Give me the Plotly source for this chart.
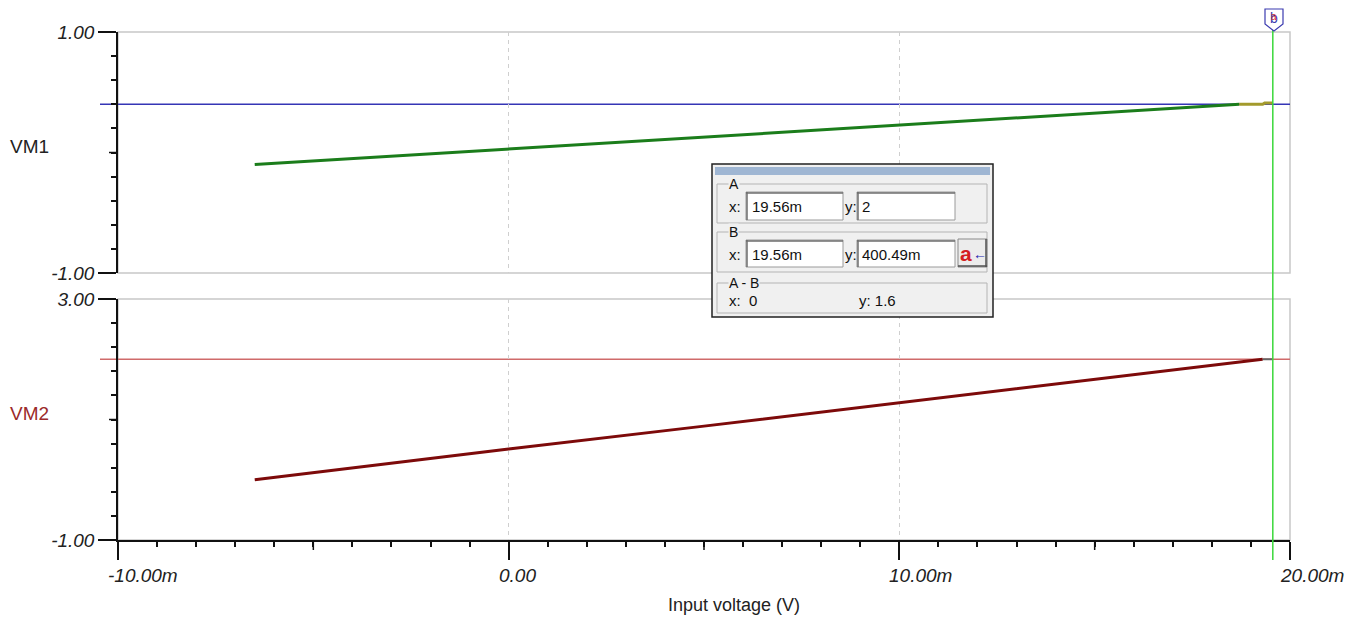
import plotly.graph_objects as go

# ---------------- data ----------------
vin_vm1 = [-6.5, -5.0, 0.0, 5.0, 10.0, 15.0, 18.7]          # mV
vm1 = [-0.10, -0.07, 0.03, 0.13, 0.23, 0.33, 0.40]           # V
vin_vm1_tail = [18.7, 19.3, 19.35, 19.56]
vm1_tail = [0.40, 0.40, 0.41, 0.41]
vin_vm2 = [-6.5, -5.0, 0.0, 5.0, 10.0, 15.0, 19.3]
vm2 = [0.00, 0.12, 0.51, 0.89, 1.28, 1.66, 2.00]
vin_vm2_tail = [19.3, 19.56]
vm2_tail = [2.00, 2.00]

cursor_x = 19.56
cursor_a_y = 2.0
cursor_b_y = 0.40049

x_tick_vals = [-10, 0, 10, 20]
x_tick_text = ["-10.00m", "0.00", "10.00m", "20.00m"]
x_mid_ticks = [-5, 5, 15]
y1_tick_vals = [-1, 1]
y1_tick_text = ["-1.00", "1.00"]
y2_tick_vals = [-1, 3]
y2_tick_text = ["-1.00", "3.00"]

box_ax, box_ay = "19.56m", "2"
box_bx, box_by = "19.56m", "400.49m"
box_dx, box_dy = "0", "1.6"

# ---------------- helpers ----------------
W, H = 1362, 617
def px(x):
    return x / W
def py(y):
    return 1 - y / H

FONT = "Liberation Sans, Arial, sans-serif"
GRAY = "#c8c8c8"
AX = "#111111"

fig = go.Figure()

fig.add_trace(go.Scatter(x=vin_vm1, y=vm1, mode="lines", line=dict(color="#1b7d1b", width=3),
                         xaxis="x", yaxis="y", showlegend=False, hoverinfo="skip"))
fig.add_trace(go.Scatter(x=vin_vm1_tail, y=vm1_tail, mode="lines", line=dict(color="#a39a2c", width=3),
                         xaxis="x", yaxis="y", showlegend=False, hoverinfo="skip"))
fig.add_trace(go.Scatter(x=vin_vm2, y=vm2, mode="lines", line=dict(color="#7d0a0a", width=3),
                         xaxis="x2", yaxis="y2", showlegend=False, hoverinfo="skip"))
fig.add_trace(go.Scatter(x=vin_vm2_tail, y=vm2_tail, mode="lines", line=dict(color="#666666", width=2),
                         xaxis="x2", yaxis="y2", showlegend=False, hoverinfo="skip"))

shapes = []
# plot frames (gray)
for xr, yr in (("x domain", "y domain"), ("x2 domain", "y2 domain")):
    shapes.append(dict(type="rect", xref=xr, yref=yr, x0=0, x1=1, y0=0, y1=1,
                       line=dict(color=GRAY, width=1.5), layer="below"))
# cursor horizontal lines
shapes.append(dict(type="line", xref="x domain", yref="y", x0=-18 / 1172, x1=1,
                   y0=cursor_b_y, y1=cursor_b_y, line=dict(color="#3535b5", width=1.5), layer="below"))
shapes.append(dict(type="line", xref="x2 domain", yref="y2", x0=-18 / 1172, x1=1,
                   y0=cursor_a_y, y1=cursor_a_y, line=dict(color="#cf6a6a", width=1.5), layer="below"))
# cursor vertical line
shapes.append(dict(type="line", xref="x2", yref="paper", x0=cursor_x, x1=cursor_x,
                   y0=py(560), y1=py(30), line=dict(color="#3ad83a", width=1.5)))
# medium ticks
shapes.append(dict(type="line", xref="paper", yref="y", x0=px(109), x1=px(118), y0=0, y1=0,
                   line=dict(color=AX, width=1.5)))
shapes.append(dict(type="line", xref="paper", yref="y2", x0=px(109), x1=px(118), y0=1, y1=1,
                   line=dict(color=AX, width=1.5)))
for v in x_mid_ticks:
    shapes.append(dict(type="line", xref="x2", yref="paper", x0=v, x1=v, y0=py(540), y1=py(550),
                       line=dict(color=AX, width=1.5)))
# cursor marker at top
shapes.append(dict(type="path", xref="paper", yref="paper",
                   path=f"M {px(1265)},{py(9)} L {px(1283)},{py(9)} L {px(1283)},{py(24)} "
                        f"L {px(1274)},{py(31)} L {px(1265)},{py(24)} Z",
                   fillcolor="white", line=dict(color="#3b3bb0", width=1.2)))

# ---------------- cursor readout window ----------------
def rect(x0, y0, x1, y1, fill, line, lw=1):
    shapes.append(dict(type="rect", xref="paper", yref="paper", x0=px(x0), x1=px(x1),
                       y0=py(y1), y1=py(y0), fillcolor=fill, line=dict(color=line, width=lw)))
def hline(x0, x1, y, color, lw=1):
    shapes.append(dict(type="line", xref="paper", yref="paper", x0=px(x0), x1=px(x1),
                       y0=py(y), y1=py(y), line=dict(color=color, width=lw)))
def vline(x, y0, y1, color, lw=1):
    shapes.append(dict(type="line", xref="paper", yref="paper", x0=px(x), x1=px(x),
                       y0=py(y0), y1=py(y1), line=dict(color=color, width=lw)))

rect(712, 164, 993, 317, "#f0f0f0", "#202020", 1.5)
rect(715, 167, 990, 175, "#9fb6d3", "#9fb6d3", 0)
# group boxes
for (y0, y1) in ((184, 223), (232, 272), (283, 313)):
    rect(717, y0, 987, y1, "rgba(0,0,0,0)", "#b4b4b4", 1)
# text fields
def field(x0, y0, x1, y1):
    rect(x0, y0, x1, y1, "white", "#9a9a9a", 1)
    hline(x0, x1, y0 + 1, "#6e6e6e", 1.5)
    vline(x0 + 1, y0, y1, "#6e6e6e", 1.5)
field(746, 192, 843, 220)
field(857, 192, 955, 220)
field(746, 240, 843, 267)
field(857, 240, 955, 267)
# button
rect(958, 239, 987, 267, "#ececec", "#8a8a8a", 1)
hline(958, 987, 266, "#505050", 1.5)
vline(986, 239, 267, "#505050", 1.5)

annotations = []
def txt(x, y, s, size=15, color="#111111", xanchor="left", italic=False, bg=None, family=FONT, bold=False):
    a = dict(xref="paper", yref="paper", x=px(x), y=py(y), text=("<b>%s</b>" % s) if bold else s,
             showarrow=False, xanchor=xanchor, yanchor="middle",
             font=dict(family=family, size=size, color=color, style="italic" if italic else "normal"))
    if bg:
        a["bgcolor"] = bg
        a["borderpad"] = 0
    annotations.append(a)

txt(728, 184, "A", size=14, bg="#f0f0f0")
txt(728, 232, "B", size=14, bg="#f0f0f0")
txt(728, 283, "A - B", size=14, bg="#f0f0f0")
txt(727, 206, "x:")
txt(843, 206, "y:")
txt(727, 254, "x:")
txt(843, 254, "y:")
txt(750, 206, box_ax)
txt(860, 206, box_ay)
txt(750, 254, box_bx)
txt(860, 254, box_by)
txt(727, 300, "x:  " + box_dx)
txt(857, 300, "y: " + box_dy)
txt(966, 253, "a", size=21, color="#d42020", xanchor="center", bold=True)
txt(980, 254, "←", size=14, color="#2020b0", xanchor="center", bold=True)

# cursor marker: blue "b" with the red "a" cursor drawn through it
txt(1274, 18, "b", size=14, color="#3b3bb0", xanchor="center")
txt(1274, 17, "a", size=10, color="#d43030", xanchor="center")

# axis titles / trace labels
txt(29, 146, "VM1", size=19, color="#222222", xanchor="center")
txt(29, 413, "VM2", size=19, color="#9b2a2a", xanchor="center")
txt(734, 605, "Input voltage (V)", size=18, color="#222222", xanchor="center")

# x tick labels (left-aligned just left of the tick, as in the original)
for v, s in zip(x_tick_vals, x_tick_text):
    annotations.append(dict(xref="x2", yref="paper", x=v, y=py(575), text=s, showarrow=False,
                            xanchor="left", yanchor="middle", xshift=-12,
                            font=dict(family=FONT, size=19, color="#222222", style="italic")))

tickfont = dict(family=FONT, size=19, color="#222222", style="italic")
xdom = [px(118), px(1290)]
GRID = "#cfcfcf"

fig.update_layout(
    width=W, height=H, autosize=False,
    margin=dict(l=0, r=0, t=0, b=0, pad=0, autoexpand=False),
    paper_bgcolor="white", plot_bgcolor="white",
    showlegend=False,
    xaxis=dict(domain=xdom, range=[-10, 20], anchor="y", showline=False, ticks="",
               showticklabels=False, tickvals=[0, 10], showgrid=True, gridcolor=GRID,
               griddash="4px,4px", gridwidth=1, zeroline=False, fixedrange=True, automargin=False),
    yaxis=dict(domain=[py(273), py(32)], range=[-1, 1], anchor="x", showline=True,
               linecolor=AX, linewidth=1.5, ticks="outside", ticklen=18, tickwidth=1.5,
               tickcolor=AX, tickvals=y1_tick_vals, ticktext=y1_tick_text, tickfont=tickfont,
               minor=dict(tick0=-1, dtick=0.2, ticks="outside", ticklen=5, tickwidth=1.5,
                          tickcolor=AX, showgrid=False),
               showgrid=False, zeroline=False, fixedrange=True, automargin=False),
    xaxis2=dict(domain=xdom, range=[-10, 20], anchor="y2", showline=True, linecolor=AX,
                linewidth=1.5, ticks="outside", ticklen=18, tickwidth=1.5, tickcolor=AX,
                tickvals=x_tick_vals, showticklabels=False, showgrid=True, gridcolor=GRID,
                griddash="4px,4px", gridwidth=1,
                minor=dict(tick0=-10, dtick=1, ticks="outside", ticklen=5, tickwidth=1.5,
                           tickcolor=AX, showgrid=False),
                zeroline=False, fixedrange=True, automargin=False),
    yaxis2=dict(domain=[py(540), py(299)], range=[-1, 3], anchor="x2", showline=True,
                linecolor=AX, linewidth=1.5, ticks="outside", ticklen=18, tickwidth=1.5,
                tickcolor=AX, tickvals=y2_tick_vals, ticktext=y2_tick_text, tickfont=tickfont,
                minor=dict(tick0=-1, dtick=0.4, ticks="outside", ticklen=5, tickwidth=1.5,
                           tickcolor=AX, showgrid=False),
                showgrid=False, zeroline=False, fixedrange=True, automargin=False),
    shapes=shapes,
    annotations=annotations,
)

fig.write_html("out.html", config={"displayModeBar": False},
               post_script="document.body.style.margin='0';document.body.style.overflow='hidden';")
